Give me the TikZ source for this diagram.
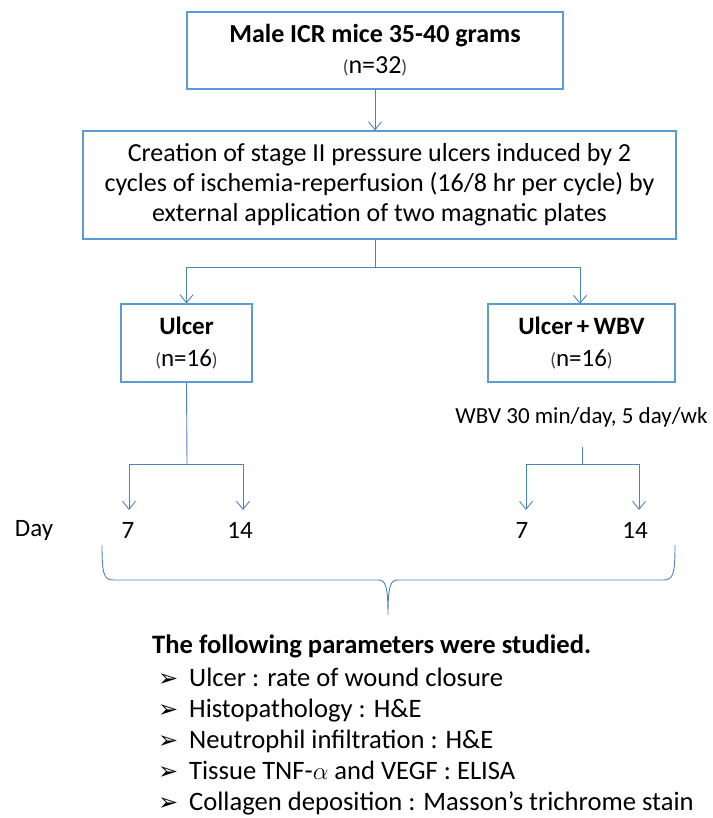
\documentclass[tikz,border=0pt]{standalone}
\usepackage{fontspec}
\setmainfont{Carlito}
\newfontfamily\symfont{DejaVu Sans}
\usetikzlibrary{arrows.meta}

\definecolor{boxblue}{RGB}{91,155,213}
\definecolor{linkblue}{RGB}{79,129,189}

% thin, slightly smaller parentheses around the group sizes
\newcommand{\lpar}{{\fontsize{19}{19}\selectfont\color{black!75}(}}
\newcommand{\rpar}{{\fontsize{19}{19}\selectfont\color{black!75})}}
\newcommand{\bulletmark}{\makebox[31pt][l]{{\symfont\fontsize{24}{24}\selectfont ➢}}}

\tikzset{
  flowbox/.style={draw=boxblue, line width=1.1pt, inner sep=0pt, align=center,
    font=\fontsize{26}{30}\selectfont},
  link/.style={draw=linkblue, line width=0.9pt},
  linkarrow/.style={link, -{Straight Barb[length=8pt,width=13pt,line width=0.9pt]}},
  label/.style={inner sep=0pt, font=\fontsize{25}{28}\selectfont},
  listline/.style={inner sep=0pt, anchor=base west, font=\fontsize{26.6}{30}\selectfont},
}

\begin{document}
\begin{tikzpicture}[x=1pt,y=-1pt]
  \useasboundingbox (0,0) rectangle (712,818);

  % boxes
  \node[flowbox, minimum width=376pt, minimum height=77pt] (mice) at (375,50.5)
    {\textbf{Male ICR mice 35-40 grams}\\[1pt]\lpar n=32\rpar};
  \node[flowbox, minimum width=593pt, minimum height=108pt] (ulcers) at (379.5,185)
    {Creation of stage II pressure ulcers induced by 2\\
     cycles of ischemia-reperfusion (16/8 hr per cycle) by\\
     external application of two magnatic plates};
  \node[flowbox, minimum width=131pt, minimum height=78pt,
        font=\fontsize{25}{32}\selectfont] (ulcer) at (186.5,343)
    {\textbf{Ulcer}\\\lpar n=16\rpar};
  \node[flowbox, minimum width=187pt, minimum height=78pt,
        font=\fontsize{25}{32}\selectfont] (wbv) at (581.5,343)
    {\textbf{Ulcer\,+\,WBV}\\\lpar n=16\rpar};

  \node[label, font=\fontsize{23}{28}\selectfont] (regimen) at (581.5,417)
    {WBV 30 min/day, 5 day/wk};

  % day labels
  \node[label] (day) at (34,530) {Day};
  \node[label] (u7) at (128,530) {7};
  \node[label] (u14) at (240,530) {14};
  \node[label] (w7) at (522,530) {7};
  \node[label] (w14) at (635,530) {14};

  % junction points
  \coordinate (split) at (375,267);
  \coordinate (usplit) at (187,464);
  \coordinate (wtop) at (582,447);
  \coordinate (wsplit) at (582,464);

  % connectors
  \draw[linkarrow] (mice.south -| 375,0) -- (ulcers.north -| 375,0);
  \draw[link] (ulcers.south -| split) -- (split);
  \draw[linkarrow] (split) -| (ulcer.north);
  \draw[linkarrow] (split) -| (580,304);
  \draw[link] (ulcer.south) -- (usplit);
  \draw[linkarrow] (usplit) -| (129,510);
  \draw[linkarrow] (usplit) -| (243,510);
  \draw[link] (wtop) -- (wsplit);
  \draw[linkarrow] (wsplit) -| (526,510);
  \draw[linkarrow] (wsplit) -| (639,510);

  % brace gathering both groups
  \draw[link]
    (102,545) .. controls (102,575) and (104,580) .. (114,580)
    -- (378,580) .. controls (385,580) and (388,584) .. (388,615)
    .. controls (388,584) and (391,580) .. (398,580)
    -- (663,580) .. controls (673,580) and (675,575) .. (675,545);

  % parameter list
  \node[listline, font=\fontsize{26.6}{30}\selectfont\bfseries] (p0) at (152,653)
    {The following parameters were studied.};
  \node[listline] (p1) at (158,686) {\bulletmark Ulcer : rate of wound closure};
  \node[listline] (p2) at (158,717) {\bulletmark Histopathology : H\&E};
  \node[listline] (p3) at (158,748) {\bulletmark Neutrophil infiltration : H\&E};
  \node[listline] (p4) at (158,779) {\bulletmark Tissue TNF-$\alpha$ and VEGF : ELISA};
  \node[listline] (p5) at (158,810) {\bulletmark Collagen deposition : Masson’s trichrome stain};
\end{tikzpicture}
\end{document}
